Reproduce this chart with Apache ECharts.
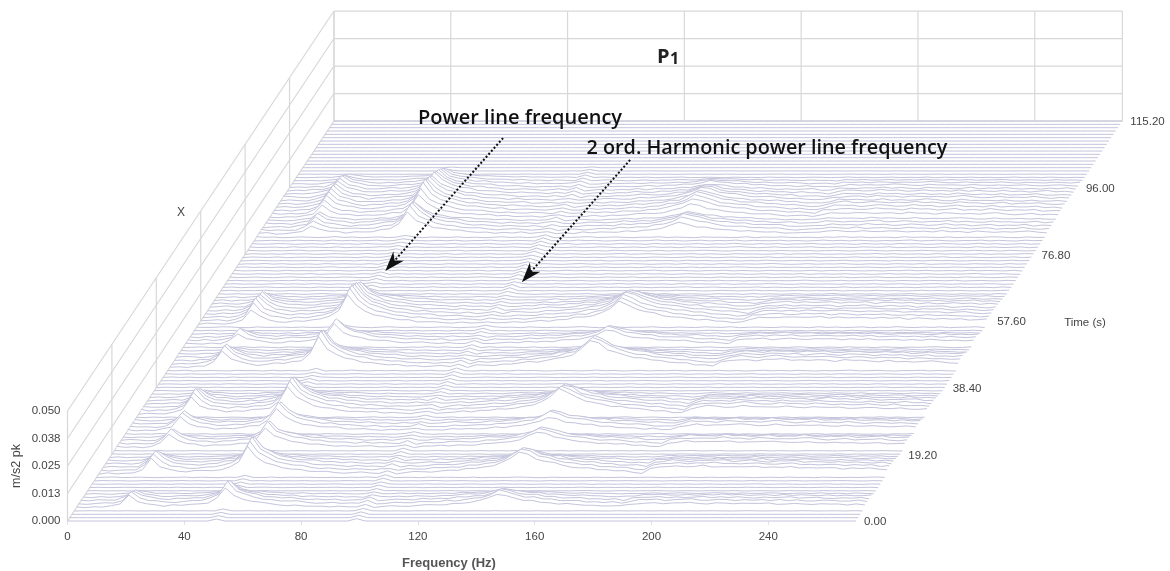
<!DOCTYPE html>
<html><head><meta charset="utf-8">
<style>html,body{margin:0;padding:0;background:#fff}#c{width:1170px;height:571px}</style>
<script src="https://cdn.jsdelivr.net/npm/echarts@6/dist/echarts.min.js"></script></head>
<body><div id="c"></div>
<script>
// ---------- DATA (amplitudes in 1e-4 m/s2 pk, gains in tenths) ----------
const freqHz=[0,3,6,9,12,15,18,21,24,27,30,33,36,39,42,45,48,51,54,57,60,63,66,69,72,75,78,81,84,87,90,93,96,99,102,105,108,111,114,117,120,123,126,129,132,135,138,141,144,147,150,153,156,159,162,165,168,171,174,177,180,183,186,189,192,195,198,201,204,207,210,213,216,219,222,225,228,231,234,237,240,243,246,249,252,255,258,261,264,267,270];
const freqTicks=[0,40,80,120,160,200,240];
const timeTicks=[0,19.2,38.4,57.6,76.8,96,115.2];
const timeTickLabels=['0.00','19.20','38.40','57.60','76.80','96.00','115.20'];
const ampTicks=[0,0.0125,0.025,0.0375,0.05];
const ampTickLabels=['0.000','0.013','0.025','0.038','0.050'];
const wallFreqLines=[0,40,80,120,160,200,240,270];
const rowStepS=0.96;
const rowCount=121;
// spectral features read from the front row of the strongest burst
const shapeLow={12:4,15:22,18:75,21:38,24:22,27:14,30:9,33:7,36:5,39:4,42:3};
const shape50={33:4,36:8,39:12,42:18,45:28,48:55,51:115,54:75,57:52,60:38,63:28,66:22,69:17,72:13,75:10,78:8,81:6,84:5,87:4,90:4,93:3,96:3};
const shapeHump={105:6,108:7,111:8,114:10,117:12,120:14,123:17,126:20,129:25,132:30,135:38,138:48,141:70,144:100,147:88,150:66,153:54,156:46,159:38,162:32,165:27,168:24,171:20,174:17,177:13,180:10,183:7,186:4};
const shapeHigh={189:24,192:34,195:38,198:36,201:34,204:37,207:39,210:37,213:35,216:33,219:36,222:37,225:34,228:31,231:33,234:35,237:32,240:30,243:28,246:31,249:30,252:27,255:26,258:28,261:27,264:24,267:23,270:22};
const shapeRidge={51:9,99:11};
// per-row gains, row 0 = front
const rowLow=[0,0,0,0,7,7,6,4,2,0,0,0,0,0,9,10,10,8,5,2,0,0,8,9,7,3,0,8,9,8,4,0,10,11,11,9,7,4,2,0,0,0,0,0,0,0,10,11,10,7,4,2,0,6,7,5,2,0,0,8,10,11,11,10,9,7,4,2,0,0,0,0,0,0,0,0,0,0,0,0,0,0,0,0,0,0,5,6,6,6,5,7,8,9,9,9,9,8,8,7,7,5,3,2,0,0,0,0,0,0,0,0,0,0,0,0,0,0,0,0,0];
const row50=[0,0,0,0,7,8,7,5,3,0,0,0,0,0,10,11,11,10,7,4,0,0,7,8,7,4,0,8,9,8,5,0,10,11,11,10,8,5,3,0,0,0,0,0,0,0,11,12,11,9,6,3,0,7,8,6,3,0,0,11,12,12,11,10,9,8,6,3,0,0,0,0,0,0,0,0,0,0,0,0,0,0,0,0,0,0,8,9,9,8,6,8,9,10,10,9,9,8,8,7,6,5,4,3,0,0,0,0,0,0,0,0,0,0,0,0,0,0,0,0,0];
const rowHump=[0,0,0,0,6,6,5,4,2,0,0,0,0,0,10,10,9,7,5,2,0,0,7,7,6,3,0,6,7,6,3,0,11,11,10,9,7,4,2,0,0,0,0,0,0,0,12,12,11,8,5,2,0,6,6,5,2,0,0,10,10,10,10,9,8,6,4,2,0,0,0,0,0,0,0,0,0,0,0,0,0,0,0,0,0,0,5,6,6,5,4,6,7,7,7,6,6,5,4,3,3,2,1,0,0,0,0,0,0,0,0,0,0,0,0,0,0,0,0,0,0];
const rowHigh=[0,0,0,0,5,5,4,3,1,0,0,0,0,0,9,9,8,6,4,2,0,0,7,7,6,3,0,7,7,6,3,0,9,9,8,7,5,3,1,0,0,0,0,0,0,0,9,9,8,7,4,2,0,6,6,5,2,0,0,8,8,8,7,6,6,5,3,2,0,0,0,0,0,0,0,0,0,0,0,0,0,0,0,0,0,0,3,3,3,3,3,5,6,6,6,5,5,4,4,3,3,2,1,0,0,0,0,0,0,0,0,0,0,0,0,0,0,0,0,0,0];
const rowRidge=[10,10,10,10,10,10,10,10,10,10,10,10,10,10,10,10,10,10,10,10,10,10,10,10,10,10,10,10,10,10,10,10,10,10,10,10,10,10,10,10,10,10,10,10,10,10,10,10,10,10,10,10,10,10,10,10,10,10,10,10,10,10,10,10,10,10,10,10,10,10,10,10,10,10,10,10,10,10,10,10,10,10,10,10,10,10,10,10,10,10,10,10,10,10,10,10,10,10,10,10,10,10,10,10,8,6,3,0,0,0,0,0,0,0,0,0,0,0,0,0,0];
const rowRipple=[0,0,0,2,8,10,10,8,6,3,3,3,3,4,10,10,10,10,8,6,3,3,8,10,10,7,5,10,10,10,8,5,10,10,10,10,10,8,6,4,4,4,4,4,4,5,10,10,10,10,8,6,6,10,10,8,6,5,6,10,10,10,10,10,10,8,8,6,5,5,5,5,5,5,5,5,5,5,5,5,5,5,6,6,6,6,10,10,10,10,8,10,10,10,10,10,10,10,10,10,8,8,6,4,2,1,0,0,0,0,0,0,0,0,0,0,0,0,0,0,0];
const rippleSeq=[2,5,1,3,6,2,0,4,7,3,1,5,2,2,6,4,0,3,5,1,7,2,4,0,6,3,1,4,2,5,8,3,0,2,6,1,4,3,7,2,0,5,3,1,6,4,2,7,0,3,5,2,1,6,3,4,0,7,2,5,1,3,6,0,4,2,8,3,1,5,2,6,0,3,4,7,1,2,5,3,0,6,2,4,1,7,3,5,0,2,6,4,1,3,8,2,5,0,3,6,1,4,2,7,0,5,3,2,6,1,4,0,3,7,2,5,1,6,3,0,4,2,5,8,1,3,6,2,0,4,3,7,1,5,2,0,6,3,4,1,2,7,0,5,3,6,2,1,4,0,5,3,8,2,6,1,3,4,0,7,2,5,3,1,6,0,4,2,3,7,5,1,0,6,2,3,4,1,5,2];

// ---------- PROJECTION: oblique waterfall into the two hidden-scale axes ----------
const pxPerHz=2.92, pxPerAmp=2200;
const skewHzPerS=2.313/pxPerHz, skewAmpPerS=3.472/pxPerAmp;
const plotLeft=67.5, plotBase=521, W=1170, H=571;
const project=(f,t,a)=>[f+t*skewHzPerS, a+t*skewAmpPerS];

function rowSpectrum(r){
  return freqHz.map((f,i)=>{
    const rip=rippleSeq[(i+r*37)%rippleSeq.length]*rowRipple[r]/10;
    const s=(shapeLow[f]||0)*rowLow[r]/10+(shape50[f]||0)*row50[r]/10+(shapeHump[f]||0)*rowHump[r]/10+(shapeHigh[f]||0)*rowHigh[r]/10+(shapeRidge[f]||0)*rowRidge[r]/10;
    return (s+rip)*1e-4;
  });
}
const rowValues=[];for(let r=0;r<rowCount;r++)rowValues.push(r);
rowValues.reverse(); // painted back to front

// walls
const wallColor='#d8d8d8';
const wallSegs=[];
const tMax=timeTicks[timeTicks.length-1],aMax=ampTicks[ampTicks.length-1],fMax=freqHz[freqHz.length-1];
ampTicks.forEach(a=>{wallSegs.push([[0,0,a],[0,tMax,a]]);wallSegs.push([[0,tMax,a],[fMax,tMax,a]]);});
timeTicks.forEach(t=>wallSegs.push([[0,t,0],[0,t,aMax]]));
wallFreqLines.forEach(f=>wallSegs.push([[f,tMax,0],[f,tMax,aMax]]));

// annotation geometry (frequency, time at zero amplitude)
const arrows=[{from:[61.8,110.3],to:[51.8,72.0]},{from:[110.3,104],to:[101.1,68.8]}];

// free text, in display-axis coordinates
const toAxis=(x,y)=>[(x-plotLeft)/pxPerHz,(plotBase-y)/pxPerAmp];
const axisFont='11.5px "Liberation Sans"';
const texts=[
 {t:'P',p:toAxis(657,57),font:'bold 20px "Open Sans"',c:'#222',al:'left'},
 {t:'1',p:toAxis(670,59),font:'bold 16px "Open Sans"',c:'#222',al:'left'},
 {t:'Power line frequency',p:toAxis(520,118),font:'600 20px "Open Sans"',c:'#111',al:'center'},
 {t:'2 ord. Harmonic power line frequency',p:toAxis(767,148),font:'600 19.8px "Open Sans"',c:'#111',al:'center'},
 {t:'X',p:toAxis(181,213),font:'12px "Liberation Sans"',c:'#444',al:'center'},
 {t:'Time (s)',p:toAxis(1085,323),font:axisFont,c:'#444',al:'center'},
 {t:'Frequency (Hz)',p:toAxis(449,563),font:'bold 13px "Liberation Sans"',c:'#555',al:'center'},
 {t:'m/s2 pk',p:toAxis(17,466),font:'12.5px "Liberation Sans"',c:'#444',al:'center',rot:Math.PI/2}
];
timeTicks.forEach((t,i)=>{
  const p=project(fMax,t,0);
  texts.push({t:timeTickLabels[i],p:[p[0]+8/pxPerHz,p[1]-1/pxPerAmp],font:axisFont,c:'#444',al:'left'});
});

const lineColor='#c4c4dc';
const option={
 animation:false,backgroundColor:'#fff',
 grid:{left:plotLeft,right:0,top:0,bottom:H-plotBase,containLabel:false},
 xAxis:{type:'value',min:0,max:(W-plotLeft)/pxPerHz,splitLine:{show:false},axisLine:{show:false},
   axisTick:{show:true,customValues:freqTicks,length:4,lineStyle:{color:'#e2e2e2'}},
   axisLabel:{customValues:freqTicks,color:'#444',fontFamily:'Liberation Sans',fontSize:11.5,margin:10}},
 yAxis:{type:'value',min:0,max:plotBase/pxPerAmp,splitLine:{show:false},axisLine:{show:false},axisTick:{show:false},
   axisLabel:{customValues:ampTicks,color:'#444',fontFamily:'Liberation Sans',fontSize:11.5,margin:7,
     formatter:v=>ampTickLabels[ampTicks.indexOf(v)]}},
 series:[
  {type:'custom',coordinateSystem:'cartesian2d',clip:false,silent:true,z:1,data:wallSegs.map((s,i)=>[i]),
   renderItem:(p,api)=>{const s=wallSegs[api.value(0)];
     const a=api.coord(project(...s[0])),b=api.coord(project(...s[1]));
     return {type:'line',shape:{x1:a[0],y1:a[1],x2:b[0],y2:b[1]},style:{stroke:wallColor,lineWidth:1.2}};}},
  {type:'custom',coordinateSystem:'cartesian2d',clip:false,silent:true,z:2,progressive:0,data:rowValues.map(r=>[r]),
   renderItem:(p,api)=>{const r=api.value(0),t=r*rowStepS,vals=rowSpectrum(r);
     const pts=freqHz.map((f,i)=>api.coord(project(f,t,vals[i])));
     const b0=api.coord(project(freqHz[freqHz.length-1],t,0)),b1=api.coord(project(0,t,0));
     return {type:'group',children:[
       {type:'polygon',shape:{points:pts.concat([b0,b1])},style:{fill:'#fff',stroke:null}},
       {type:'polyline',shape:{points:pts},style:{fill:null,stroke:lineColor,lineWidth:1}}
     ]};}},
  {type:'custom',coordinateSystem:'cartesian2d',clip:false,silent:true,z:3,data:arrows.map((a,i)=>[i]),
   renderItem:(p,api)=>{const a=arrows[api.value(0)];
     const s=api.coord(project(a.from[0],a.from[1],0)),e=api.coord(project(a.to[0],a.to[1],0));
     const dx=e[0]-s[0],dy=e[1]-s[1],L=Math.hypot(dx,dy),ux=dx/L,uy=dy/L,nx=-uy,ny=ux;
     const at=(d,w)=>[e[0]-ux*d+nx*w,e[1]-uy*d+ny*w];
     return {type:'group',children:[
       {type:'line',shape:{x1:s[0],y1:s[1],x2:e[0]-ux*10,y2:e[1]-uy*10},style:{stroke:'#111',lineWidth:2,lineDash:[2,2]}},
       {type:'polygon',shape:{points:[e,at(20,7),at(14,0),at(20,-7)]},style:{fill:'#111'}}
     ]};}},
  {type:'custom',coordinateSystem:'cartesian2d',clip:false,silent:true,z:4,data:texts.map((a,i)=>[i]),
   renderItem:(p,api)=>{const a=texts[api.value(0)],c=api.coord(a.p);
     return {type:'text',x:c[0],y:c[1],rotation:a.rot||0,style:{text:a.t,x:0,y:0,font:a.font,fill:a.c,align:a.al,verticalAlign:'middle'}};}}
 ]
};
const chart=echarts.init(document.getElementById('c'),null,{renderer:'canvas'});
chart.setOption(option);
</script></body></html>
